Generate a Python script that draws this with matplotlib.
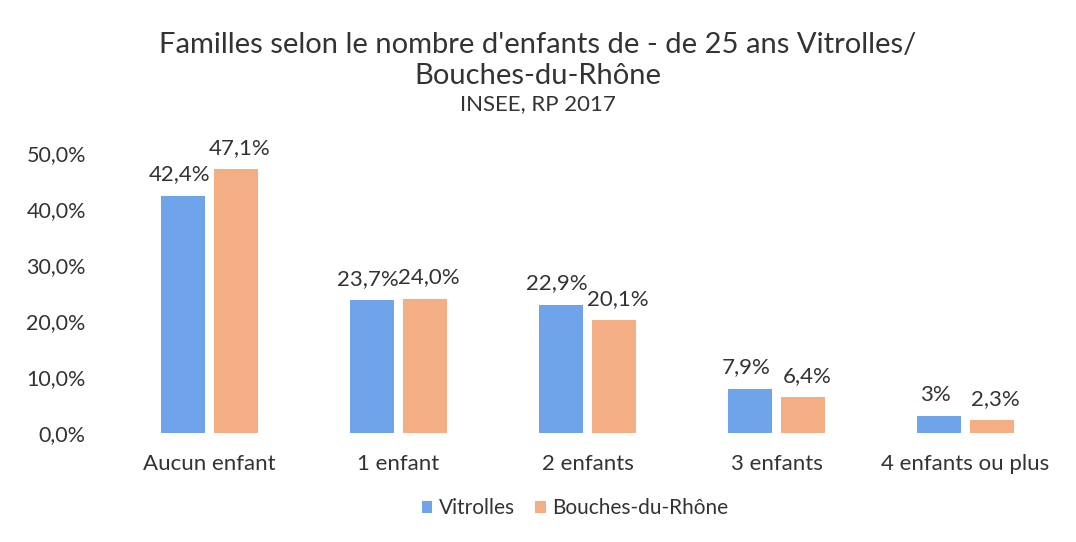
import numpy as np
import matplotlib.pyplot as plt

plt.rcParams['font.family'] = ['Lato', 'DejaVu Sans']

categories = ["Aucun enfant", "1 enfant", "2 enfants", "3 enfants", "4 enfants ou plus"]
vitrolles = [42.4, 23.7, 22.9, 7.9, 3.0]
bdr = [47.1, 24.0, 20.1, 6.4, 2.3]
labels_vit = ["42,4%", "23,7%", "22,9%", "7,9%", "3%"]
labels_bdr = ["47,1%", "24,0%", "20,1%", "6,4%", "2,3%"]

blue = "#6fa4ea"
orange = "#f4ae84"
txt = "#333333"

fig = plt.figure(figsize=(10.76, 5.42), dpi=100)
ax = fig.add_axes([115 / 1076, 109 / 542, 945 / 1076, 280 / 542])

x = np.arange(len(categories))
off = 0.14
w = 0.23
b1 = ax.bar(x - off, vitrolles, w, color=blue, label="Vitrolles")
b2 = ax.bar(x + off, bdr, w, color=orange, label="Bouches-du-Rhône")

for xi, v, s in zip(x, vitrolles, labels_vit):
    ax.text(xi - off - 0.02, v + 2.0, s, ha="center", va="bottom", fontsize=16, color=txt)
for xi, v, s in zip(x, bdr, labels_bdr):
    ax.text(xi + off + 0.02, v + 2.0, s, ha="center", va="bottom", fontsize=16, color=txt)

ax.set_xlim(-0.5, 4.5)
ax.set_ylim(0, 50)
ax.set_yticks(np.arange(0, 51, 10))
ax.set_yticklabels([f"{t:.1f}%".replace(".", ",") for t in np.arange(0, 51, 10)])
ax.set_xticks(x)
ax.set_xticklabels(categories)
ax.tick_params(axis="both", length=0, colors=txt)
ax.tick_params(axis="y", pad=21, labelsize=15.5)
ax.tick_params(axis="x", pad=15, labelsize=16)
for sp in ax.spines.values():
    sp.set_visible(False)

fig.text(0.5, 1 - 45 / 542, "Familles selon le nombre d'enfants de - de 25 ans Vitrolles/",
         ha="center", va="center", fontsize=21, color=txt)
fig.text(0.5, 1 - 76 / 542, "Bouches-du-Rhône", ha="center", va="center", fontsize=21, color=txt)
fig.text(0.5, 1 - 104 / 542, "INSEE, RP 2017", ha="center", va="center", fontsize=16, color=txt)

fig.legend(handles=[b1, b2], loc="center", bbox_to_anchor=(575 / 1076, 1 - 508 / 542),
           ncol=2, frameon=False, fontsize=15, handlelength=0.5, handleheight=0.5,
           handletextpad=0.3, columnspacing=1.0, labelcolor=txt)

fig.savefig("out.png", dpi=100, facecolor="white")
